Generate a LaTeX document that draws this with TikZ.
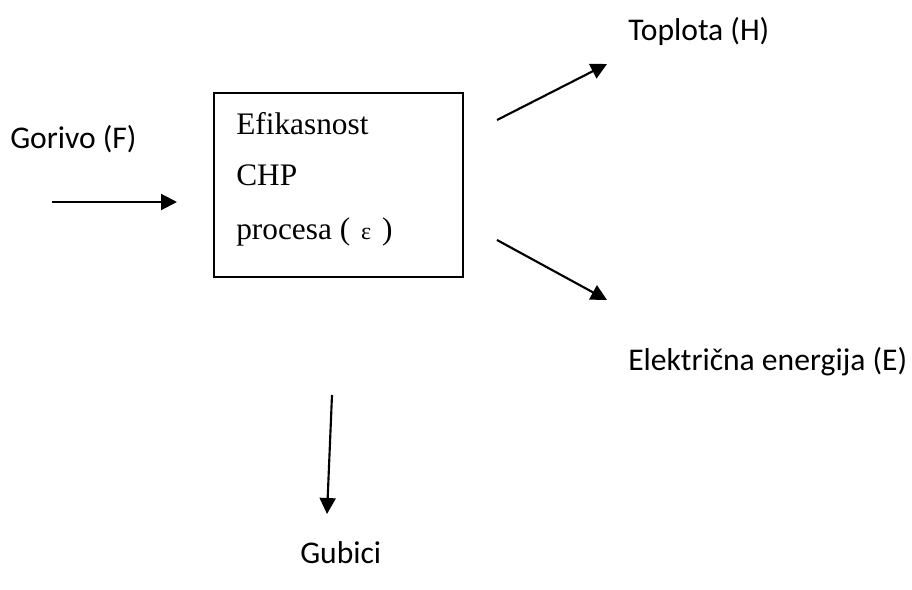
\documentclass[tikz,border=0pt]{standalone}
\usepackage{fontspec}
\setmainfont{Carlito}
\newfontfamily\serifbox{Liberation Serif}
\usetikzlibrary{arrows.meta}
\begin{document}
\begin{tikzpicture}[x=0.75pt,y=-0.75pt,
  lbl/.style={anchor=base west,inner sep=0pt,font=\fontsize{23.7}{28}\selectfont},
  boxtxt/.style={anchor=base west,inner sep=0pt,font=\serifbox\fontsize{23.5}{28}\selectfont},
  flow/.style={line width=1.6pt,-{Triangle[length=12pt,width=12pt]}}]
\useasboundingbox (0,0) rectangle (912,589);
\node[draw,line width=1pt,minimum width=249*0.75pt,minimum height=184*0.75pt,inner sep=0pt] (box) at (338.5,185) {};
\node[boxtxt] (t1) at (236,134) {Efikasnost};
\node[boxtxt] (t2) at (236,185) {CHP};
\node[boxtxt] (t3) at (236,239) {procesa (\hspace{0.35em}{\fontsize{18}{20}\selectfont ε}\hspace{0.35em})};
\node[lbl] (gorivo) at (10,148) {Gorivo (F)};
\node[lbl] (toplota) at (628,40) {Toplota (H)};
\node[lbl] (el) at (628,370) {Električna energija (E)};
\node[lbl] (gub) at (300,563) {Gubici};
\coordinate (a0) at (52,202);
\coordinate (a1) at (177,202);
\coordinate (b0) at (497,120);
\coordinate (b1) at (607,64);
\coordinate (c0) at (497,240);
\coordinate (c1) at (607,300);
\coordinate (d0) at (332,395);
\coordinate (d1) at (327,514);
\draw[flow] (a0) -- (a1);
\draw[flow] (b0) -- (b1);
\draw[flow] (c0) -- (c1);
\draw[flow] (d0) -- (d1);
\end{tikzpicture}
\end{document}
